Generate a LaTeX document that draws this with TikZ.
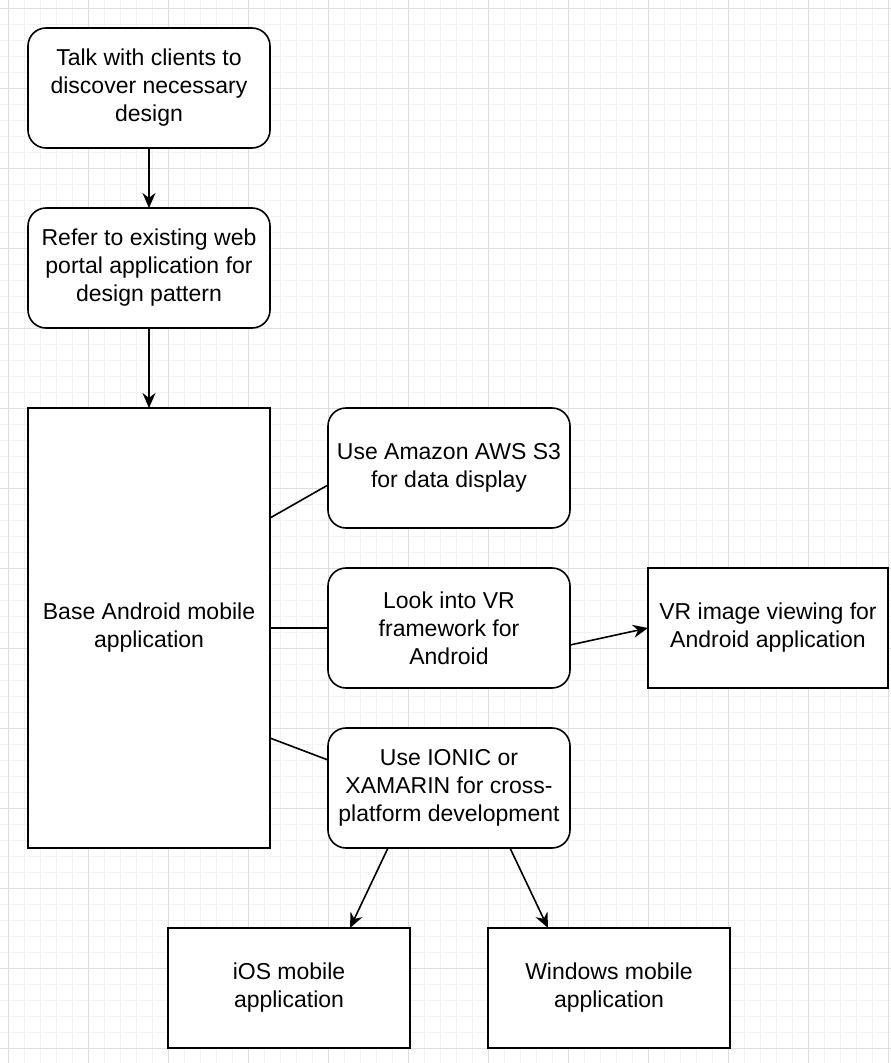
\documentclass[tikz,border=0pt]{standalone}
\usepackage{fontspec}
\setmainfont{Liberation Sans}
\usepackage{tikz}
\usetikzlibrary{positioning, arrows.meta}
\tikzset{
    >={Stealth[length=15pt, width=13pt]}, % bold arrow heads
    every node/.style={font=\fontsize{23pt}{28pt}\selectfont, align=center, inner sep=2pt},
    box/.style={draw, line width=1.6pt, fill=white, outer sep=0pt, minimum width=242pt, minimum height=120pt}, % plain boxes
    roundbox/.style={box, rounded corners=18pt}, % rounded boxes
    link/.style={line width=1.6pt}, % connector lines
    minorgrid/.style={draw=black!5, line width=0.6pt},
    majorgrid/.style={draw=black!13, line width=0.8pt},
}

\begin{document}
\begin{tikzpicture}[x=1pt, y=1pt]
    \useasboundingbox (0,0) rectangle (891,-1063);
    % background grid
    \begin{scope}[shift={(8,-8)}]
        \draw[minorgrid, step=16pt] (-8,8) grid (883,-1055);
        \draw[majorgrid, step=80pt] (-8,8) grid (883,-1055);
    \end{scope}
    \node[roundbox] (talk) at (149,-88) {Talk with clients to\\discover necessary\\design};
    \node[roundbox, below=60pt of talk] (refer) {Refer to existing web\\portal application for\\design pattern};
    \node[box, minimum height=440pt, below=80pt of refer] (base) {Base Android mobile\\application};
    \node[roundbox, right=58pt of base.north east, anchor=north west] (s3) {Use Amazon AWS S3\\for data display};
    \node[roundbox, below=40pt of s3] (vr) {Look into VR\\framework for\\Android};
    \node[roundbox, below=40pt of vr] (ionic) {Use IONIC or\\XAMARIN for cross-\\platform development};
    \node[box, minimum width=240pt, right=78pt of vr] (vrview) {VR image viewing for\\Android application};
    \node[box, below=80pt of ionic, xshift=-160pt] (ios) {iOS mobile\\application};
    \node[box, below=80pt of ionic, xshift=160pt] (win) {Windows mobile\\application};
    \draw[link]
    (talk) edge[->] (refer)
    (refer) edge[->] (base)
    ([yshift=-110pt]base.north east) edge ([yshift=-77pt]s3.north west)
    (base.east |- vr.west) edge (vr.west)
    ([yshift=110pt]base.south east) edge ([yshift=-32pt]ionic.north west)
    ([yshift=-17pt]vr.east) edge[->] (vrview.west)
    ([xshift=-61pt]ionic.south) edge[->] ([xshift=61pt]ios.north)
    ([xshift=61pt]ionic.south) edge[->] ([xshift=-61pt]win.north);
\end{tikzpicture}
\end{document}
